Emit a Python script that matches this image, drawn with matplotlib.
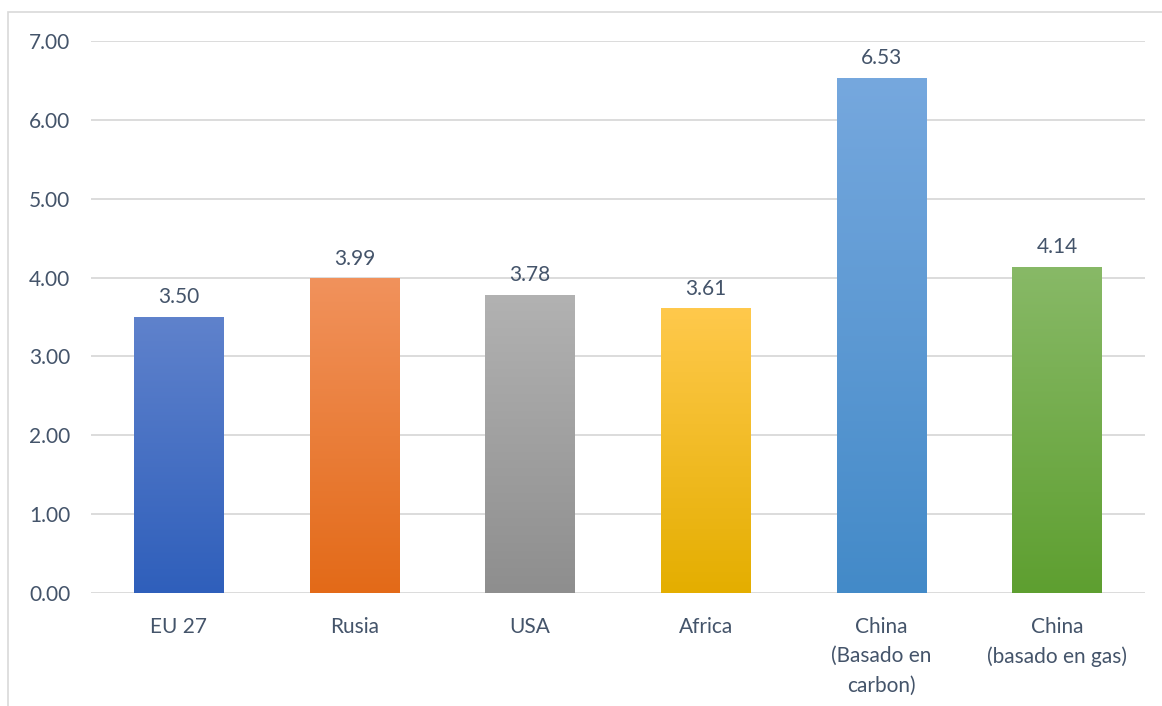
import numpy as np
import matplotlib
matplotlib.use("Agg")
import matplotlib.pyplot as plt
import matplotlib.patches as patches
from matplotlib.colors import LinearSegmentedColormap

plt.rcParams['font.family'] = ['Lato', 'DejaVu Sans']

categories = ["EU 27", "Rusia", "USA", "Africa", "China\n(Basado en\ncarbon)", "China\n(basado en gas)"]
values = [3.50, 3.99, 3.78, 3.61, 6.53, 4.14]
# degradado de cada barra: color arriba, color abajo
top_colors = ["#5F82CC", "#F1925C", "#B2B2B2", "#FFC94C", "#76A8DE", "#88B967"]
bottom_colors = ["#2F5FBB", "#E36A18", "#8E8E8E", "#E4AE00", "#438AC8", "#5E9F30"]
yticks = [0, 1, 2, 3, 4, 5, 6, 7]

TEXT = "#44546A"
GRID = "#D9D9D9"
FS = 15

fig = plt.figure(figsize=(11.62, 7.06), dpi=100)
ax = fig.add_axes([91 / 1162, 1 - 593 / 706, (1145 - 91) / 1162, (593 - 41) / 706])

# marco del grafico
frame = patches.Rectangle((8 / 1162, -0.1), 1.2, 1 - 12 / 706 + 0.1, transform=fig.transFigure,
                          fill=False, edgecolor="#D9D9D9", linewidth=1.2)
fig.patches.append(frame)

x = np.arange(len(categories))
width = 0.51
bars = ax.bar(x, values, width=width, color="none", zorder=3)

grad = np.linspace(0, 1, 256).reshape(-1, 1)
for bar, c_top, c_bot, v in zip(bars, top_colors, bottom_colors, values):
    cmap = LinearSegmentedColormap.from_list("g", [c_bot, c_top])
    x0, y0 = bar.get_x(), bar.get_y()
    w, h = bar.get_width(), bar.get_height()
    im = ax.imshow(grad, cmap=cmap, aspect="auto", origin="lower",
                   extent=[x0, x0 + w, y0, y0 + h], zorder=3)
    im.set_clip_path(bar)
    ax.annotate(f"{v:.2f}", (x0 + w / 2, v), xytext=(0, 7), textcoords="offset points",
                ha="center", va="bottom", fontsize=FS, color=TEXT)

ax.set_xlim(-0.5, len(categories) - 0.5)
ax.set_ylim(0, 7)
ax.set_yticks(yticks)
ax.set_yticklabels([f"{t:.2f}" for t in yticks])
ax.set_xticks(x)
ax.set_xticklabels(categories, linespacing=1.6)
ax.tick_params(axis="both", length=0, labelsize=FS, colors=TEXT)
ax.tick_params(axis="y", pad=15)
ax.tick_params(axis="x", pad=17)
ax.grid(axis="y", color=GRID, linewidth=1.3, zorder=0)
for s in ax.spines.values():
    s.set_visible(False)

fig.savefig("out.png", dpi=100)
